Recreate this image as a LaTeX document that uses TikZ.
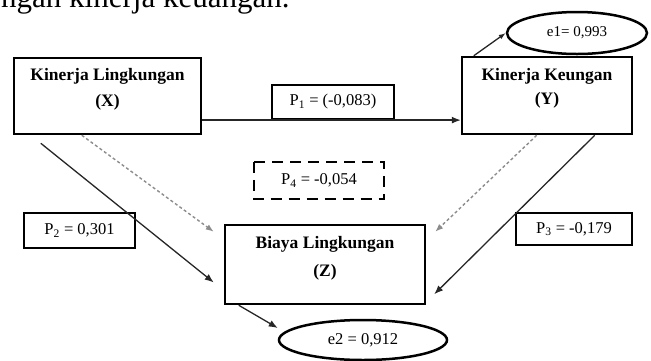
\documentclass[tikz,border=0pt]{standalone}
\usepackage{fontspec}
\setmainfont{Liberation Serif}
\usetikzlibrary{arrows.meta,shapes.geometric,calc}
\begin{document}
\begin{tikzpicture}[x=1pt,y=-1pt,
  mainbox/.style={draw=black, line width=2.5pt, inner sep=0pt},
  pbox/.style={draw=black, line width=2.2pt, inner sep=0pt, font=\fontsize{16.5}{16.5}\selectfont},
  title/.style={font=\bfseries\fontsize{17.5}{17.5}\selectfont, inner sep=0pt},
  evar/.style={ellipse, draw=black, line width=2.5pt, inner sep=0pt, font=\fontsize{16.5}{16.5}\selectfont},
  arr/.style={line width=1.3pt, draw=black!85, -{Latex[length=9pt,width=7pt]}},
  dotarr/.style={line width=1.4pt, draw=black!45, dash pattern=on 3pt off 2.5pt, -{Latex[length=8pt,width=6pt]}}
]
\useasboundingbox (0,0) rectangle (651,360);
\clip (0,0) rectangle (651,360);

% cut-off line of running text
\node[anchor=base west, inner sep=0pt, font=\fontsize{31}{31}\selectfont] (toptext) at (1,7) {ngan kinerja keuangan.};

% main variables
\node[mainbox, minimum width=187pt, minimum height=76pt] (X) at (107.5,96) {};
\node[title] (Xt) at (107.5,76) {Kinerja Lingkungan};
\node[title] (Xv) at (107.5,102) {(X)};

\node[mainbox, minimum width=170pt, minimum height=77pt] (Y) at (547,95.5) {};
\node[title] (Yt) at (547,76) {Kinerja Keungan};
\node[title] (Yv) at (547,100) {(Y)};

\node[mainbox, minimum width=200pt, minimum height=79pt] (Z) at (325,264.5) {};
\node[title] (Zt) at (325,244) {Biaya Lingkungan};
\node[title] (Zv) at (325,272) {(Z)};

% residuals
\node[evar, minimum width=140pt, minimum height=42pt, font=\fontsize{15}{15}\selectfont] (e1) at (577,33) {e1= 0,993};
\node[evar, minimum width=168pt, minimum height=40pt] (e2) at (363,340) {e2 = 0,912};

% path coefficients
\node[pbox, minimum width=122pt, minimum height=34pt] (P1) at (333,102) {P\textsubscript{1} = (-0,083)};
\node[pbox, draw=none, minimum width=128pt, minimum height=35pt] (P4) at (319,180.5) {P\textsubscript{4} = -0,054};
\draw[line width=2.6pt, dash pattern=on 11pt off 7pt] (P4.north west) rectangle (P4.south east);
\node[pbox, minimum width=111pt, minimum height=35pt] (P2) at (79.5,230.5) {P\textsubscript{2} = 0,301};
\node[pbox, minimum width=116pt, minimum height=32pt] (P3) at (574,229) {P\textsubscript{3} = -0,179};

% connectors
\draw[arr] (X.east |- P1.south) -- (Y.west |- P1.south);
\draw[arr, -{Latex[length=7pt,width=5pt]}] ($(Y.north west)+(13,0)$) -- (e1.west);
\draw[arr] ($(X.south west)+(28,8)$) -- ($(Z.west)+(-10,18)$);
\draw[dotarr] ($(X.south west)+(69,0)$) -- ($(Z.north west)+(-10,8)$);
\draw[dotarr] ($(Y.south west)+(76,0)$) -- ($(Z.north east)+(9,8)$);
\draw[arr] ($(Y.south west)+(134,0)$) -- ($(Z.south east)+(8,-11)$);
\draw[arr] ($(Z.south west)+(15,0)$) -- ($(e2.west)+(0,-12)$);
\end{tikzpicture}
\end{document}
